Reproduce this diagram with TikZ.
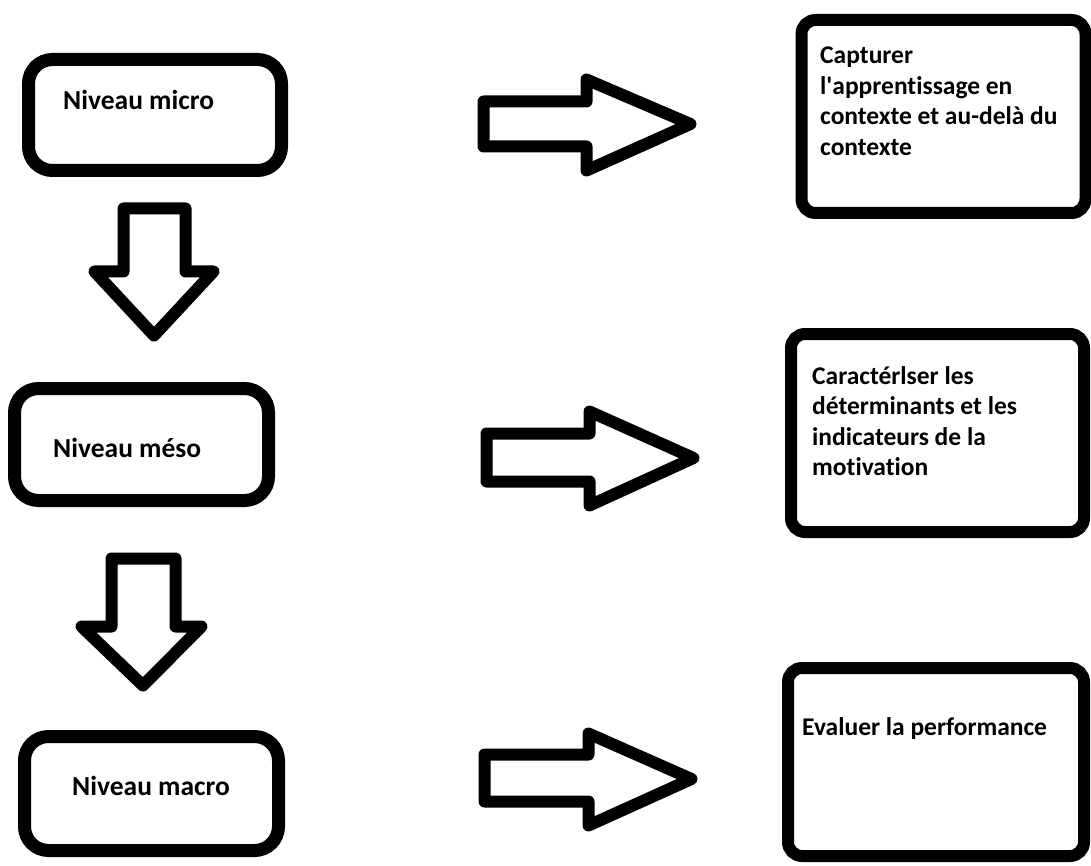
\documentclass[tikz,border=0pt]{standalone}
\usepackage{fontspec}
\setmainfont{Carlito}[Ligatures=NoCommon]
\usetikzlibrary{positioning}

\tikzset{
  levelbox/.style={draw=black, line width=13pt, rounded corners=24pt, inner sep=0pt},
  goalbox/.style={draw=black, line width=12pt, rounded corners=14pt, inner sep=0pt},
  bigarrow/.style={draw=black, line width=12pt, line join=round, fill=white},
  lbl/.style={inner sep=0pt, font=\bfseries\fontsize{27.5}{31}\selectfont},
  goaltxt/.style={inner sep=0pt, font=\bfseries\fontsize{25.5}{30.5}\selectfont, align=left}
}

\begin{document}
\begin{tikzpicture}[x=1pt, y=-1pt]
\useasboundingbox (0,0) rectangle (1091,866);

% niveaux (gauche)
\node[levelbox, minimum width=253pt, minimum height=111pt] (micro) at (155,115) {};
\node[levelbox, minimum width=254pt, minimum height=112pt] (meso) at (141.5,444.5) {};
\node[levelbox, minimum width=254pt, minimum height=114pt] (macro) at (151.5,793.5) {};
\node[lbl, anchor=base west] (microtxt) at (63,110) {Niveau micro};
\node[lbl, anchor=base west] (mesotxt) at (53,457) {Niveau méso};
\node[lbl, anchor=base west] (macrotxt) at (72,795) {Niveau macro};

% objectifs (droite)
\node[goalbox, minimum width=284pt, minimum height=193pt] (capture) at (943.5,116.5) {};
\node[goalbox, minimum width=293pt, minimum height=198pt] (motiv) at (937.5,433) {};
\node[goalbox, minimum width=296pt, minimum height=188pt] (perf) at (936,762) {};
\node[goaltxt, anchor=north west] (capturetxt) at (820,47) {Capturer\\l\textquotesingle apprentissage en\\contexte et au-delà du\\contexte};
\node[goaltxt, anchor=north west] (motivtxt) at (812,366) {Caractérlser les\\déterminants et les\\indicateurs de la\\motivation};
\node[goaltxt, anchor=base west] (perftxt) at (802,735) {Evaluer la performance};

% fleches vers le bas
\draw[bigarrow] (123.5,208.5) -- (185.5,208.5) -- (185.5,271.5) -- (213.5,271.5) -- (154,335.5) -- (94.5,271.5) -- (123.5,271.5) -- cycle;
\draw[bigarrow] (111.5,558.5) -- (175.5,558.5) -- (175.5,626.5) -- (201.5,626.5) -- (143,685.5) -- (81.5,626.5) -- (111.5,626.5) -- cycle;

% fleches vers la droite
\draw[bigarrow] (483.5,101.5) -- (586.5,101.5) -- (586.5,79.5) -- (690.5,124) -- (586.5,170.5) -- (586.5,146.5) -- (483.5,146.5) -- cycle;
\draw[bigarrow] (486.5,433.5) -- (589.5,433.5) -- (589.5,411.5) -- (693.5,458) -- (589.5,505.5) -- (589.5,481.5) -- (486.5,481.5) -- cycle;
\draw[bigarrow] (484.5,754.5) -- (588.5,754.5) -- (588.5,733.5) -- (691.5,779) -- (588.5,825.5) -- (588.5,801.5) -- (484.5,801.5) -- cycle;
\end{tikzpicture}
\end{document}
